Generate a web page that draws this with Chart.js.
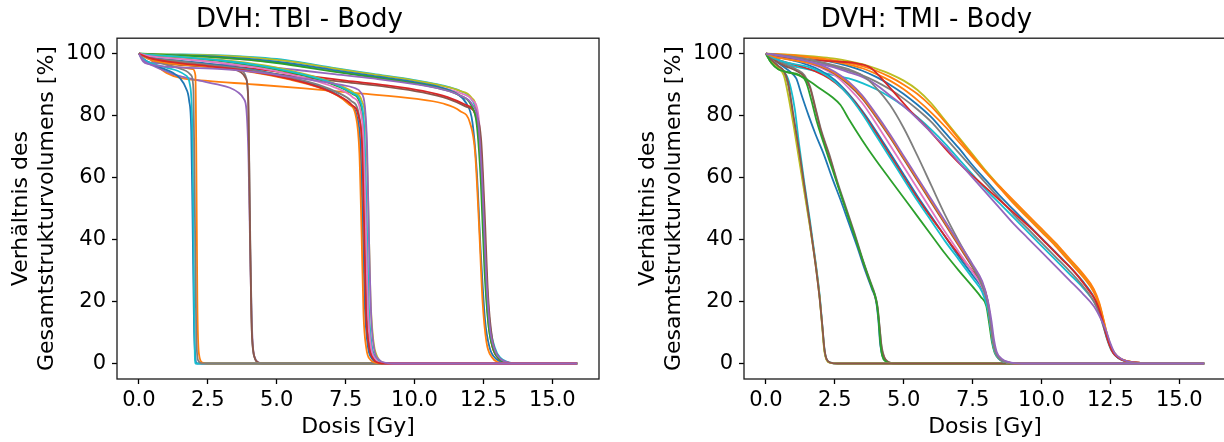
<!DOCTYPE html>
<html>
<head>
<meta charset="utf-8">
<title>DVH Body</title>
<script src="https://cdn.jsdelivr.net/npm/chart.js@4.4.1/dist/chart.umd.min.js"></script>
<style>
  html, body { margin: 0; padding: 0; background: #fff; overflow: hidden; }
  body { width: 1224px; height: 442px; position: relative; }
  .box { position: absolute; top: 0; width: 612px; height: 442px; }
  #boxTbi { left: 0; }
  #boxTmi { left: 627px; }
</style>
</head>
<body>
<div class="box" id="boxTbi"><canvas id="tbiChart" width="612" height="442"></canvas></div>
<div class="box" id="boxTmi"><canvas id="tmiChart" width="612" height="442"></canvas></div>
<script>
// tick positions
const doseTicks = [0, 2.5, 5, 7.5, 10, 12.5, 15];
const volumeTicks = [0, 20, 40, 60, 80, 100];

// matplotlib tab10 cycle
const tab10 = ['#1f77b4', '#ff7f0e', '#2ca02c', '#d62728', '#9467bd',
               '#8c564b', '#e377c2', '#7f7f7f', '#bcbd22', '#17becf'];

// ---- TBI: cumulative DVH curves [dose Gy, volume %] ----
const tbi2Gy = [
  [[0,100],[0.15,98.5],[0.4,97],[0.8,95.5],[1.2,94],[1.5,92],[1.7,89],[1.82,85],[1.9,75],[1.95,45],[2.0,12],[2.05,2],[2.1,0],[15.9,0]],
  [[0,100],[0.2,98],[0.6,96.5],[1.0,95.5],[1.4,94.5],[1.7,93],[1.85,90],[1.95,70],[2.0,20],[2.03,2],[2.05,0],[15.9,0]],
  [[0,100],[0.3,99.5],[0.7,97.5],[1.2,96],[1.6,95.5],[1.95,95],[2.05,93],[2.08,70],[2.12,20],[2.18,3],[2.3,0.3],[2.45,0],[15.9,0]],
  [[0,100],[0.2,99],[0.6,97.5],[1.0,96.5],[1.4,95.5],[1.7,94.5],[1.9,93],[1.98,88],[2.03,50],[2.08,10],[2.15,1],[2.3,0],[15.9,0]]
];
const tbi2GyTone = [0, 9, 1, 7];

const tbi4Gy = [
  [[0,100],[0.15,97.5],[0.4,96.5],[0.8,95],[1.2,93.5],[1.6,92.5],[2.2,91.3],[2.8,90.2],[3.3,89],[3.6,87.5],[3.8,85.5],[3.9,82],[3.98,65],[4.05,30],[4.12,8],[4.2,2],[4.35,0.3],[4.5,0],[15.9,0]],
  [[0,100],[0.3,99],[0.8,98],[1.5,97],[2.2,96.5],[2.9,96],[3.4,95.5],[3.7,94.5],[3.9,92],[3.98,80],[4.04,40],[4.1,10],[4.2,2],[4.4,0],[15.9,0]],
  [[0,100],[0.3,99],[0.8,97.5],[1.5,96.5],[2.2,96],[2.9,95.5],[3.4,95],[3.7,94],[3.88,92],[3.97,85],[4.02,50],[4.08,15],[4.15,4],[4.3,0.5],[4.45,0],[15.9,0]]
];
const tbi4GyTone = [4, 7, 5];

const tbi8Gy = [
  [[0,100],[0.4,99.5],[1.5,98.8],[3,97.5],[4.5,95.5],[5.5,94],[6.5,91.8],[7.2,89.5],[7.75,87],[8.02,84],[8.16,75],[8.24,50],[8.32,20],[8.42,7],[8.58,2],[8.8,0.3],[9.05,0],[15.9,0]],
  [[0,100],[0.3,99],[1.2,98],[2.5,96.8],[4,95],[5.5,92.3],[6.5,89.6],[7.2,86.8],[7.62,83.8],[7.9,80],[8.04,70],[8.12,45],[8.2,18],[8.3,6],[8.46,1.5],[8.66,0.2],[8.9,0],[15.9,0]],
  [[0,100],[0.5,99.6],[1.5,99],[3,98],[4.5,96.3],[5.5,94.5],[6.5,92.2],[7.2,90],[7.8,87.5],[8.1,84.5],[8.24,76],[8.32,52],[8.4,22],[8.5,8],[8.66,2],[8.86,0.3],[9.15,0],[15.9,0]],
  [[0,100],[0.4,99.6],[1.5,99],[3,97.8],[4.5,96],[5.5,94.2],[6.5,92],[7.2,89.8],[7.75,87.2],[8.06,84],[8.18,75],[8.26,48],[8.34,18],[8.44,6],[8.62,1.5],[8.86,0.2],[9.1,0],[15.9,0]],
  [[0,100],[0.3,98.5],[1.0,97],[2.5,95.8],[4,94.2],[5.5,91.6],[6.5,89.2],[7.2,86.5],[7.6,83.8],[7.88,79.5],[8.0,68],[8.08,42],[8.15,16],[8.25,5],[8.4,1.2],[8.62,0.2],[8.88,0],[15.9,0]],
  [[0,100],[0.3,98.8],[1.2,97.8],[2.5,96.5],[4,94.8],[5.5,92.3],[6.5,90],[7.2,87.5],[7.7,84.8],[7.98,80.5],[8.1,70],[8.18,44],[8.26,17],[8.36,6],[8.53,1.5],[8.74,0.2],[9.0,0],[15.9,0]],
  [[0,100],[0.4,99.2],[1.5,98.3],[3,97],[4.5,95.2],[5.5,93.3],[6.5,91],[7.2,88.8],[7.75,86],[8.03,82],[8.15,72],[8.23,46],[8.31,18],[8.41,6],[8.58,1.5],[8.78,0.2],[9.05,0],[15.9,0]],
  [[0,100],[0.4,98.6],[1.2,97.3],[2.5,96],[4,94.4],[5.5,91.8],[6.5,89.3],[7.2,86.6],[7.72,83.5],[7.98,79.5],[8.1,70],[8.17,45],[8.24,17],[8.34,6],[8.5,1.5],[8.7,0.2],[8.95,0],[15.9,0]],
  [[0,100],[0.2,97.5],[0.6,96.2],[1.5,95.6],[3,95],[4.5,93.8],[5.5,92.5],[6.5,91.2],[7.3,90],[7.8,89],[8.05,87.5],[8.2,83],[8.28,70],[8.35,40],[8.43,15],[8.53,5],[8.72,1.2],[8.98,0.2],[9.25,0],[15.9,0]]
];
const tbi8GyTone = [2, 0, 8, 9, 1, 7, 6, 3, 4];

const tbi12Gy = [
  [[0,100],[1,99.8],[2.5,99.6],[4,99],[5,98.3],[6,97],[7,95.5],[8.5,93.5],[10,91.5],[11,89.8],[11.65,88],[12.05,85.5],[12.27,80],[12.42,65],[12.57,35],[12.72,14],[12.92,5],[13.12,1.8],[13.42,0.4],[13.8,0],[15.9,0]],
  [[0,100],[1,99.8],[2.5,99.5],[4,98.8],[5,98],[6,96.8],[7,95.3],[8.5,93.3],[10,91.3],[11,89.6],[11.65,88],[12.05,86],[12.27,81],[12.42,64],[12.54,35],[12.67,14],[12.84,5],[13.07,1.6],[13.37,0.3],[13.7,0],[15.9,0]],
  [[0,100],[0.8,99.5],[2.5,99],[4,98],[5,97.2],[6,96],[7,94.5],[8.5,92.5],[10,90.5],[11,89],[11.65,87.3],[12.1,85],[12.32,80],[12.47,60],[12.6,30],[12.74,12],[12.92,4],[13.12,1.3],[13.42,0.3],[13.8,0],[15.9,0]],
  [[0,100],[0.8,99.6],[2.5,99.2],[4,98.3],[5,97.4],[6,96.2],[7,94.8],[8.5,92.8],[10,90.8],[11,89],[11.55,87],[11.88,84],[12.1,78],[12.26,62],[12.41,35],[12.56,14],[12.73,5],[12.96,1.5],[13.26,0.3],[13.6,0],[15.9,0]],
  [[0,100],[0.4,98.5],[0.9,97],[1.8,96.2],[3,95.5],[4.5,94],[6,92.3],[7.5,90.8],[9,89.3],[10.3,87.5],[11.2,85.5],[11.85,83],[12.25,80],[12.42,72],[12.54,50],[12.67,22],[12.82,8],[13.02,2.5],[13.27,0.6],[13.7,0],[15.9,0]],
  [[0,100],[0.5,98.8],[1.0,97.5],[2,96.7],[3.2,96],[4.5,94.8],[6,93],[7.5,91.3],[9,89.8],[10.3,88],[11.2,86],[11.85,83.5],[12.2,80.5],[12.38,70],[12.51,45],[12.63,20],[12.79,7],[13.01,2],[13.26,0.5],[13.6,0],[15.9,0]],
  [[0,100],[0.3,99.2],[0.6,96.5],[1.0,93.8],[1.5,92.2],[2.5,91.2],[4,90.2],[6,88.8],[8,87.2],[10,85.5],[11,84],[11.65,81.5],[12.02,77.5],[12.2,68],[12.34,45],[12.47,20],[12.61,7],[12.81,2],[13.04,0.4],[13.4,0],[15.9,0]],
  [[0,100],[1,99.6],[2.5,99],[4,98],[5,97],[6,95.7],[7,94.3],[8.5,92.4],[10,90.4],[11,88.6],[11.65,86.5],[12.05,83.5],[12.26,77],[12.41,58],[12.54,30],[12.69,12],[12.89,4],[13.11,1.2],[13.41,0.2],[13.8,0],[15.9,0]],
  [[0,100],[0.2,97.8],[0.6,97],[1.5,96.8],[3,96.5],[4.5,95.8],[6,94.5],[7,93.5],[8.5,92],[10,90.2],[11,88.5],[11.65,86.5],[12.1,83.5],[12.31,78],[12.46,58],[12.59,30],[12.73,12],[12.93,4],[13.16,1.2],[13.46,0.2],[13.8,0],[15.9,0]]
];
const tbi12GyTone = [9, 8, 6, 0, 5, 3, 1, 2, 4];

// ---- TMI ----
const tmi2Gy = [
  [[0,100],[0.2,97.5],[0.5,95],[0.75,93],[0.9,89],[1.05,82],[1.2,71],[1.4,58],[1.6,46],[1.8,33],[1.95,22],[2.05,12],[2.12,5],[2.2,1.4],[2.35,0.3],[2.6,0],[15.9,0]],
  [[0,100],[0.2,98],[0.45,96],[0.65,94],[0.8,90],[1.0,79],[1.2,67.5],[1.4,56],[1.6,44.5],[1.8,32.5],[1.95,21.5],[2.05,11.5],[2.12,4.5],[2.2,1.3],[2.35,0.2],[2.6,0],[15.9,0]],
  [[0,100],[0.2,97.5],[0.45,95.5],[0.65,93],[0.8,87],[1.0,77],[1.2,66],[1.4,55],[1.6,44],[1.8,32],[1.95,21],[2.05,11],[2.12,4],[2.2,1.2],[2.35,0.2],[2.6,0],[15.9,0]],
  [[0,100],[0.2,98],[0.45,96],[0.65,94.5],[0.8,91],[1.0,80],[1.2,69],[1.4,57],[1.6,45],[1.8,32],[1.95,21],[2.05,12],[2.12,5],[2.2,1.5],[2.35,0.3],[2.6,0],[15.9,0]]
];
const tmi2GyTone = [9, 7, 8, 5];

const tmi4Gy = [
  [[0,100],[0.3,98],[0.6,96],[0.9,94],[1.1,92],[1.3,86.5],[1.55,80],[1.8,74],[2.1,67.5],[2.4,60],[2.7,53],[3.0,45.5],[3.3,38],[3.6,30],[3.85,24],[4.0,20],[4.08,14],[4.15,6],[4.25,2],[4.4,0.4],[4.7,0],[15.9,0]],
  [[0,100],[0.3,98.5],[0.7,96.5],[1.1,95],[1.4,93],[1.6,89.5],[1.8,82.5],[2.0,75.5],[2.3,67.5],[2.6,58.5],[2.9,50.5],[3.2,42.5],[3.5,34],[3.75,27.5],[3.95,22.5],[4.05,18.5],[4.12,12.5],[4.2,5.5],[4.3,2],[4.45,0.5],[4.7,0],[15.9,0]],
  [[0,100],[0.3,98],[0.7,96],[1.1,94.5],[1.4,92.5],[1.6,89],[1.8,82],[2.0,75],[2.3,67],[2.6,58],[2.9,50],[3.2,42],[3.5,33.5],[3.75,27],[3.95,22],[4.05,18],[4.12,12],[4.2,5],[4.3,1.8],[4.45,0.4],[4.7,0],[15.9,0]],
  [[0,100],[0.2,97],[0.45,95],[0.8,94],[1.2,93.2],[1.45,91],[1.65,85],[1.85,78],[2.1,71],[2.4,63],[2.7,55],[3.0,47],[3.3,39],[3.6,31],[3.85,24.5],[4.0,20.5],[4.08,15],[4.15,7],[4.22,2.5],[4.35,0.7],[4.55,0.1],[4.8,0],[15.9,0]]
];
const tmi4GyTone = [0, 7, 5, 2];

const tmi8Gy = [
  [[0,100],[0.2,97],[0.45,95],[0.8,94],[1.2,93],[1.6,91],[2.0,88.5],[2.4,86],[2.7,83.5],[3.0,79],[3.5,72],[4.0,65.5],[4.5,59.5],[5.0,53.5],[5.5,47.5],[6.0,41.5],[6.5,35.5],[7.0,30],[7.5,24.8],[7.8,21.5],[8.0,18.5],[8.1,13],[8.2,7],[8.3,3.5],[8.45,1.5],[8.7,0.3],[9.1,0],[15.9,0]],
  [[0,100],[0.4,99],[1.0,97.8],[1.5,96.5],[2.0,94.5],[2.5,91.5],[3.0,87],[3.5,81.5],[4.0,75],[4.5,68],[5.0,61],[5.5,54],[6.0,47.5],[6.5,41],[7.0,34.5],[7.5,28.5],[7.85,24],[8.05,18.5],[8.15,12.5],[8.25,6.5],[8.35,3.2],[8.5,1.4],[8.75,0.4],[9.2,0],[15.9,0]],
  [[0,100],[0.3,98.5],[0.8,97],[1.3,95.8],[1.8,94.3],[2.3,92],[2.8,88.5],[3.3,83.5],[3.8,77],[4.3,70],[4.8,63],[5.3,56],[5.8,49.5],[6.3,43.5],[6.8,37.5],[7.3,32],[7.7,27.5],[7.95,23.5],[8.1,17],[8.2,10],[8.3,5],[8.45,2],[8.7,0.6],[9.1,0],[15.9,0]],
  [[0,100],[0.4,99.2],[1.0,98.2],[1.5,97],[2.0,95.5],[2.5,93],[3.0,89],[3.5,84],[4.0,77.5],[4.5,70.5],[5.0,63.5],[5.5,56.5],[6.0,49.5],[6.5,42.5],[7.0,36],[7.5,29.5],[7.85,24.5],[8.05,18.5],[8.15,12.5],[8.25,6.2],[8.35,3],[8.5,1.3],[8.75,0.3],[9.2,0],[15.9,0]],
  [[0,100],[0.3,98.5],[0.8,97],[1.5,95.8],[2.0,94],[2.5,91],[3.0,86.5],[3.5,80.5],[4.0,73.5],[4.5,66.5],[5.0,59.5],[5.5,52.5],[6.0,46],[6.5,39.5],[7.0,33.5],[7.5,27.5],[7.85,23],[8.05,17.5],[8.15,11.8],[8.25,5.6],[8.35,2.8],[8.5,1.2],[8.75,0.3],[9.2,0],[15.9,0]],
  [[0,100],[0.4,99.3],[1.0,98.4],[1.5,97.3],[2.0,95.8],[2.5,93.5],[3.0,90],[3.5,85.5],[4.0,79.5],[4.5,73],[5.0,66],[5.5,59],[6.0,52],[6.5,45],[7.0,38],[7.5,31],[7.85,25.5],[8.05,20],[8.15,14],[8.25,7.2],[8.35,3.5],[8.5,1.5],[8.75,0.4],[9.2,0],[15.9,0]],
  [[0,100],[0.3,99],[0.8,98.2],[1.4,97.3],[2.0,96],[2.5,93.8],[3.0,90.5],[3.5,86],[4.0,80],[4.5,73.5],[5.0,66.5],[5.5,59.5],[6.0,52.5],[6.5,45.5],[7.0,38.5],[7.5,31.5],[7.85,26],[8.05,20],[8.15,13.5],[8.25,7],[8.35,3.4],[8.5,1.5],[8.75,0.4],[9.2,0],[15.9,0]],
  [[0,100],[0.5,99.5],[1.0,99],[1.5,98.2],[2.0,97.3],[2.5,96.2],[3.0,95],[3.5,93],[4.0,89],[4.5,83.5],[5.0,76],[5.5,67],[6.0,57.5],[6.5,48],[7.0,39.5],[7.5,31.5],[7.85,25],[8.05,19],[8.15,13],[8.25,6.5],[8.35,3.2],[8.5,1.3],[8.8,0.3],[9.2,0],[15.9,0]],
  [[0,100],[0.4,99.5],[1.0,98.6],[1.5,97.6],[2.0,96.3],[2.5,94.2],[3.0,91],[3.5,86.5],[4.0,80.5],[4.5,74],[5.0,67],[5.5,60],[6.0,53],[6.5,46],[7.0,39],[7.5,32],[7.85,26.5],[8.05,20.5],[8.18,14],[8.28,7.5],[8.38,3.6],[8.55,1.6],[8.8,0.5],[9.3,0],[15.9,0]]
];
const tmi8GyTone = [2, 0, 3, 6, 9, 5, 1, 7, 4];

const tmi12Gy = [
  [[0,100],[0.3,98.5],[0.8,96.5],[1.5,95],[2,94],[2.5,93],[3,92],[3.5,90.5],[4,88.5],[4.5,86],[5,83],[5.5,79.5],[6,75.5],[6.5,71],[7,66],[7.5,61],[8,56],[8.5,51.5],[9,47],[9.5,42.5],[10,38],[10.5,33.5],[11,29],[11.5,24.5],[11.9,20],[12.1,16.5],[12.25,12],[12.4,7.5],[12.55,4.2],[12.75,2],[13,0.9],[13.5,0.2],[14,0],[15.9,0]],
  [[0,100],[0.5,99.5],[1,98.8],[1.5,98],[2,97],[2.5,95.8],[3,94.5],[3.5,93],[4,91],[4.5,88.5],[5,85.5],[5.5,82],[6,78],[6.5,73],[7,68],[7.5,63],[8,58],[8.5,53],[9,48],[9.5,43.5],[10,39],[10.5,34.5],[11,30],[11.5,25],[11.9,20],[12.1,16],[12.25,11.8],[12.4,7.3],[12.55,4],[12.75,2],[13,0.9],[13.5,0.2],[14,0],[15.9,0]],
  [[0,100],[0.5,99.6],[1,99.2],[1.5,98.7],[2,98],[2.5,97.1],[3,96],[3.5,94.5],[4,92.5],[4.5,90],[5,87],[5.5,83.5],[6,79.5],[6.5,74.5],[7,69.5],[7.5,64],[8,59],[8.5,54],[9,49.5],[9.5,45],[10,40.5],[10.5,36],[11,31.5],[11.5,26.5],[11.9,21.5],[12.1,17.5],[12.25,12.5],[12.4,7.8],[12.55,4.3],[12.75,2],[13,0.9],[13.5,0.2],[14,0],[15.9,0]],
  [[0,100],[0.5,99.8],[1,99.6],[1.5,99.3],[2,98.9],[2.5,98.4],[3,97.6],[3.5,96.6],[4,95.2],[4.5,93.5],[5,91.3],[5.5,88.3],[6,84],[6.5,78.5],[7,73],[7.5,67.5],[8,62],[8.5,57],[9,52],[9.5,47.5],[10,43],[10.5,38.5],[11,33.5],[11.5,28.5],[11.9,23.5],[12.1,19],[12.25,14],[12.4,8.7],[12.55,4.9],[12.75,2.3],[13,1],[13.5,0.3],[14,0],[15.9,0]],
  [[0,100],[0.5,99.8],[1,99.5],[1.5,99],[2,98.5],[2.5,97.8],[3,97],[3.5,96],[4,94.5],[4.5,92.5],[5,90],[5.5,87],[6,83],[6.5,78],[7,72.5],[7.5,67],[8,61.5],[8.5,56.5],[9,51.5],[9.5,47],[10,42.5],[10.5,38],[11,33],[11.5,28],[11.9,23],[12.1,18.5],[12.25,13.5],[12.4,8.3],[12.55,4.6],[12.75,2.2],[13,1],[13.5,0.3],[14,0],[15.9,0]],
  [[0,100],[0.5,99.7],[1,99.3],[1.5,98.8],[2,98.2],[2.5,97.4],[3,96.5],[3.5,95.3],[4,93.5],[4.5,91.3],[5,88.5],[5.5,85],[6,81],[6.5,76.5],[7,71.5],[7.5,66.5],[8,61.5],[8.5,57],[9,52.5],[9.5,48],[10,43.5],[10.5,39],[11,34],[11.5,29],[11.9,24],[12.1,19.5],[12.25,14.3],[12.4,8.7],[12.55,4.9],[12.75,2.4],[13,1.1],[13.5,0.3],[14,0],[15.9,0]],
  [[0,100],[0.3,99],[0.8,98.5],[1.5,98],[2.5,97.5],[3.2,97],[3.8,95.5],[4.3,91],[4.8,86],[5.3,81],[5.75,77],[6.2,72.5],[6.7,67.5],[7.2,63],[7.7,59],[8.2,55],[8.7,51],[9.2,47],[9.7,43],[10.2,38.5],[10.7,34],[11.2,29.5],[11.6,25],[11.95,20.5],[12.15,16],[12.3,11],[12.45,6.5],[12.6,3.5],[12.8,1.8],[13.1,0.7],[13.6,0.2],[14.2,0],[15.9,0]],
  [[0,100],[0.5,99.5],[1,98.5],[1.5,97.5],[2,96.6],[2.5,95.5],[3,94],[3.5,92.5],[4,90],[4.5,86.5],[5,83],[5.5,79],[6,74.5],[6.5,70],[7,65],[7.5,60],[8,55],[8.5,50],[9,45],[9.5,40.5],[10,36],[10.5,31.5],[11,27],[11.5,22.5],[11.9,18.5],[12.15,14.5],[12.35,10.5],[12.5,6.5],[12.65,3.5],[12.85,1.8],[13.1,0.8],[13.6,0.2],[14.2,0],[15.9,0]]
];
const tmi12GyTone = [9, 7, 0, 8, 1, 1, 3, 4];

// one dataset per curve; Chart.js paints index 0 last, so reverse to keep plot order
function curveSets(groups) {
  const sets = [];
  groups.forEach(([curves, tones]) => {
    curves.forEach((pts, i) => {
      sets.push({
        data: pts.map(([x, y]) => ({x, y})),
        borderColor: tab10[tones[i]],
        borderWidth: 1.8,
        pointRadius: 0,
        fill: false,
        cubicInterpolationMode: 'monotone'
      });
    });
  });
  return sets.reverse();
}

// full box round the plot area
const frame = {
  id: 'frame',
  afterDraw(chart) {
    const {ctx, chartArea: a} = chart;
    ctx.save();
    ctx.strokeStyle = '#1a1a1a';
    ctx.lineWidth = 1.3;
    ctx.strokeRect(a.left, a.top, a.right - a.left, a.bottom - a.top);
    ctx.restore();
  }
};

const font = 'DejaVu Sans';

function dvhChart(id, title, groups) {
  new Chart(document.getElementById(id), {
    type: 'line',
    data: { datasets: curveSets(groups) },
    plugins: [frame],
    options: {
      responsive: false,
      animation: false,
      parsing: false,
      layout: { padding: { left: 0, right: 13, top: 0, bottom: 0 } },
      plugins: {
        legend: { display: false },
        tooltip: { enabled: false },
        title: {
          display: true,
          text: title,
          color: '#000',
          font: { family: font, size: 26, weight: 'normal' },
          padding: { top: 5, bottom: 2 }
        }
      },
      scales: {
        x: {
          type: 'linear',
          min: -0.795,
          max: 16.695,
          afterFit(s) { s.height = 63; },
          afterBuildTicks(s) { s.ticks = doseTicks.map(v => ({ value: v })); },
          border: { display: false },
          grid: { drawOnChartArea: false, drawTicks: true, tickLength: 5, tickColor: '#000', tickWidth: 1.3 },
          ticks: {
            color: '#000',
            padding: 4,
            maxRotation: 0,
            font: { family: font, size: 21 },
            callback: v => v.toFixed(1)
          },
          title: {
            display: true,
            text: 'Dosis [Gy]',
            color: '#000',
            font: { family: font, size: 22 },
            padding: { top: 0, bottom: 2 }
          }
        },
        y: {
          type: 'linear',
          min: -5,
          max: 105,
          afterFit(s) { s.width = 117; },
          afterBuildTicks(s) { s.ticks = volumeTicks.map(v => ({ value: v })); },
          border: { display: false },
          grid: { drawOnChartArea: false, drawTicks: true, tickLength: 5, tickColor: '#000', tickWidth: 1.3 },
          ticks: {
            color: '#000',
            padding: 6,
            font: { family: font, size: 21 },
            callback: v => String(v)
          },
          title: {
            display: true,
            text: ['Verhältnis des', 'Gesamtstrukturvolumens [%]'],
            color: '#000',
            font: { family: font, size: 22 },
            padding: { top: 8, bottom: 0 }
          }
        }
      }
    }
  });
}

dvhChart('tbiChart', 'DVH: TBI - Body',
  [[tbi12Gy, tbi12GyTone], [tbi4Gy, tbi4GyTone], [tbi2Gy, tbi2GyTone], [tbi8Gy, tbi8GyTone]]);
dvhChart('tmiChart', 'DVH: TMI - Body',
  [[tmi12Gy, tmi12GyTone], [tmi4Gy, tmi4GyTone], [tmi2Gy, tmi2GyTone], [tmi8Gy, tmi8GyTone]]);
</script>
</body>
</html>
